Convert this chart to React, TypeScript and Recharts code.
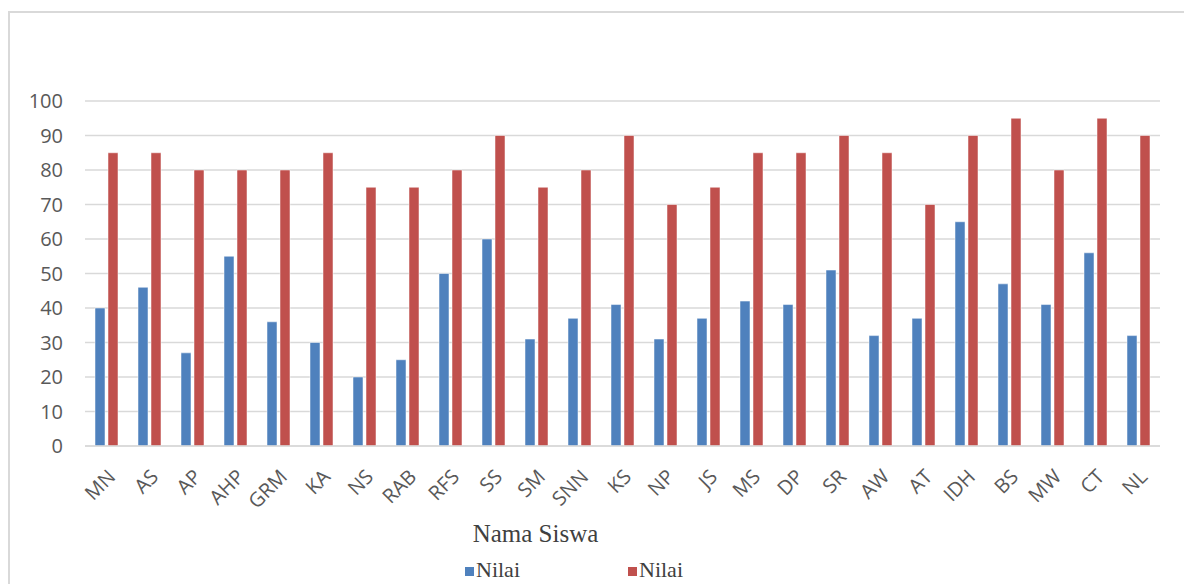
import React from "react"
import { Bar, BarChart, CartesianGrid, XAxis, YAxis, Label } from "recharts"

// Nama siswa (kategori sumbu X)
const students = [
  "MN", "AS", "AP", "AHP", "GRM", "KA", "NS", "RAB", "RFS", "SS", "SM", "SNN", "KS",
  "NP", "JS", "MS", "DP", "SR", "AW", "AT", "IDH", "BS", "MW", "CT", "NL",
]

// Nilai seri pertama (biru)
const nilaiA = [40, 46, 27, 55, 36, 30, 20, 25, 50, 60, 31, 37, 41, 31, 37, 42, 41, 51, 32, 37, 65, 47, 41, 56, 32]

// Nilai seri kedua (merah)
const nilaiB = [85, 85, 80, 80, 80, 85, 75, 75, 80, 90, 75, 80, 90, 70, 75, 85, 85, 90, 85, 70, 90, 95, 80, 95, 90]

const yTicks = [0, 10, 20, 30, 40, 50, 60, 70, 80, 90, 100]

const seriesNames = ["Nilai", "Nilai"]
const seriesColors = ["#4F81BD", "#C0504D"]

const data = students.map((name, i) => ({ name, a: nilaiA[i], b: nilaiB[i] }))

const tickFont = { fontFamily: "'Open Sans', sans-serif", fontSize: 20, fill: "#595959" }
const serif = "Liberation Serif, Times New Roman, serif"

export default function App() {
  return (
    <div style={{ position: "absolute", left: 0, top: 0, width: 1184, height: 584, background: "#fff", overflow: "hidden" }}>
      {/* bingkai grafik */}
      <div
        style={{
          position: "absolute",
          left: 8,
          top: 11,
          width: 1200,
          height: 600,
          borderTop: "2px solid #d9d9d9",
          borderLeft: "2px solid #d9d9d9",
        }}
      />
      <BarChart
        width={1184}
        height={584}
        data={data}
        margin={{ top: 101, right: 24, bottom: 0, left: 0 }}
        barSize={10}
        barGap={3}
        style={{ position: "absolute", left: 0, top: 0 }}
      >
        <CartesianGrid vertical={false} stroke="#d9d9d9" strokeWidth={1.5} />
        <XAxis
          dataKey="name"
          height={138}
          interval={0}
          angle={-45}
          textAnchor="end"
          tickLine={false}
          axisLine={{ stroke: "#d9d9d9", strokeWidth: 1.5 }}
          tickMargin={16}
          tick={tickFont}
        >
          <Label
            value="Nama Siswa"
            position="insideTop"
            offset={78}
            dx={-87}
            style={{ fontFamily: serif, fontSize: 25, fill: "#404040" }}
          />
        </XAxis>
        <YAxis
          width={85}
          domain={[0, 100]}
          ticks={yTicks}
          interval={0}
          tickLine={false}
          axisLine={false}
          tickMargin={16}
          tick={tickFont}
        />
        <Bar dataKey="a" name={seriesNames[0]} fill={seriesColors[0]} stroke="#ffffff" strokeWidth={0.5} isAnimationActive={false} />
        <Bar dataKey="b" name={seriesNames[1]} fill={seriesColors[1]} stroke="#ffffff" strokeWidth={0.5} isAnimationActive={false} />
      </BarChart>
      {/* legenda */}
      {seriesNames.map((n, i) => (
        <div
          key={i}
          style={{
            position: "absolute",
            left: i === 0 ? 465 : 628,
            top: 558,
            display: "flex",
            alignItems: "center",
            fontFamily: serif,
            fontSize: 22,
            color: "#404040",
            lineHeight: "24px",
          }}
        >
          <span style={{ display: "inline-block", width: 9, height: 9, background: seriesColors[i], marginRight: 2, marginTop: 2 }} />
          {n}
        </div>
      ))}
    </div>
  )
}
